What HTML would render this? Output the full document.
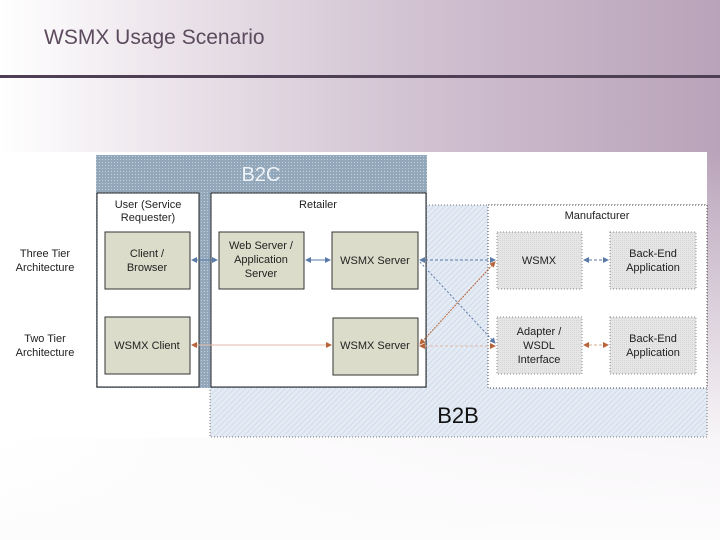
<!DOCTYPE html>
<html><head><meta charset="utf-8"><style>
body{margin:0}
#p{position:relative;width:720px;height:540px;overflow:hidden;font-family:"Liberation Sans",sans-serif;
background:linear-gradient(to right,#ffffff 0%,#e6dde5 30%,#d0c0d0 60%,#b9a3ba 100%)}
#fade{position:absolute;left:0;top:0;width:720px;height:540px;background:linear-gradient(to bottom,rgba(255,255,255,0) 0px,rgba(255,255,255,0) 150px,rgba(255,255,255,0.9) 440px,#fdfcfd 540px)}
</style></head><body><div id="p"><div id="fade"></div>
<svg width="720" height="540" style="position:absolute;left:0;top:0" font-family="Liberation Sans, sans-serif">
<defs>
<pattern id="hb" width="3" height="3" patternUnits="userSpaceOnUse"><rect width="3" height="3" fill="#93a7bb"/><rect width="1" height="1" fill="#c4d0dc"/></pattern>
<pattern id="hl" width="4" height="4" patternUnits="userSpaceOnUse" patternTransform="rotate(45)"><rect width="4" height="4" fill="#e4ebf4"/><rect width="1" height="4" fill="#d2dcea"/></pattern>
<pattern id="hg" width="2" height="2" patternUnits="userSpaceOnUse"><rect width="2" height="2" fill="#e6e6e6"/><rect width="1" height="1" fill="#d6d6d6"/></pattern>
<marker id="ab" markerWidth="6" markerHeight="6" refX="5" refY="3" orient="auto-start-reverse"><path d="M0,0L6,3L0,6z" fill="#5a7aa8"/></marker>
<marker id="ao" markerWidth="6" markerHeight="6" refX="5" refY="3" orient="auto-start-reverse"><path d="M0,0L6,3L0,6z" fill="#b8643a"/></marker>
</defs>
<text x="44" y="44" font-size="21" fill="#5c4b5e">WSMX Usage Scenario</text>
<rect x="0" y="75" width="720" height="3" fill="#4f3f55"/>
<rect x="0" y="152" width="707" height="286" fill="#fff"/>
<rect x="210" y="205" width="497" height="232" fill="url(#hl)" stroke="#777" stroke-dasharray="1,2"/>
<rect x="96" y="155" width="331" height="233" fill="url(#hb)"/>
<rect x="97" y="193" width="102" height="194" fill="#fff" stroke="#222"/>
<rect x="211" y="193" width="215" height="194" fill="#fff" stroke="#222"/>
<text x="261" y="181" font-size="20" fill="#f0f4f8" text-anchor="middle">B2C</text>
<text x="148" y="208" font-size="11" text-anchor="middle" fill="#222">User (Service</text>
<text x="148" y="221" font-size="11" text-anchor="middle" fill="#222">Requester)</text>
<text x="318" y="208" font-size="11" text-anchor="middle" fill="#222">Retailer</text>
<rect x="488" y="205" width="219" height="183" fill="#fff" stroke="#444" stroke-dasharray="1,2"/>
<text x="597" y="219" font-size="11" text-anchor="middle" fill="#222">Manufacturer</text>
<g fill="#dcdcca" stroke="#333">
<rect x="105" y="232" width="85" height="57"/><rect x="105" y="317" width="85" height="57"/>
<rect x="219" y="232" width="85" height="57"/><rect x="332" y="232" width="86" height="57"/>
<rect x="333" y="318" width="85" height="57"/></g>
<g fill="url(#hg)" stroke="#888" stroke-dasharray="1,2">
<rect x="497" y="232" width="85" height="57"/><rect x="610" y="232" width="86" height="57"/>
<rect x="497" y="317" width="85" height="57"/><rect x="610" y="317" width="86" height="57"/></g>
<g font-size="11" text-anchor="middle" fill="#222">
<text x="147" y="257">Client /</text><text x="147" y="271">Browser</text>
<text x="147" y="349">WSMX Client</text>
<text x="261" y="249">Web Server /</text><text x="261" y="263">Application</text><text x="261" y="277">Server</text>
<text x="375" y="264">WSMX Server</text><text x="375" y="349">WSMX Server</text>
<text x="539" y="264">WSMX</text>
<text x="653" y="257">Back-End</text><text x="653" y="271">Application</text>
<text x="539" y="335">Adapter /</text><text x="539" y="349">WSDL</text><text x="539" y="363">Interface</text>
<text x="653" y="342">Back-End</text><text x="653" y="356">Application</text>
<text x="45" y="257">Three Tier</text><text x="45" y="271">Architecture</text>
<text x="45" y="342">Two Tier</text><text x="45" y="356">Architecture</text>
</g>
<text x="458" y="423" font-size="22" text-anchor="middle" fill="#111">B2B</text>
<g fill="none" stroke-width="1">
<line x1="192" y1="260" x2="217" y2="260" stroke="#5a7aa8" marker-start="url(#ab)" marker-end="url(#ab)"/>
<line x1="306" y1="260" x2="330" y2="260" stroke="#5a7aa8" marker-start="url(#ab)" marker-end="url(#ab)"/>
<line x1="192" y1="345" x2="331" y2="345" stroke="#e0b8a8" marker-start="url(#ao)" marker-end="url(#ao)"/>
<line x1="420" y1="260" x2="495" y2="260" stroke="#5a7aa8" stroke-dasharray="3,2" marker-start="url(#ab)" marker-end="url(#ab)"/>
<line x1="420" y1="262" x2="495" y2="343" stroke="#5a7aa8" stroke-dasharray="2,2" marker-end="url(#ab)"/>
<line x1="420" y1="344" x2="495" y2="262" stroke="#b8643a" stroke-dasharray="2,1" marker-start="url(#ao)" marker-end="url(#ao)"/>
<line x1="420" y1="346" x2="495" y2="346" stroke="#e0b8a8" stroke-dasharray="3,2" marker-start="url(#ao)" marker-end="url(#ao)"/>
<line x1="584" y1="260" x2="608" y2="260" stroke="#5a7aa8" stroke-dasharray="3,2" marker-start="url(#ab)" marker-end="url(#ab)"/>
<line x1="584" y1="345" x2="608" y2="345" stroke="#d8a888" stroke-dasharray="3,2" marker-start="url(#ao)" marker-end="url(#ao)"/>
</g>
</svg></div></body></html>
